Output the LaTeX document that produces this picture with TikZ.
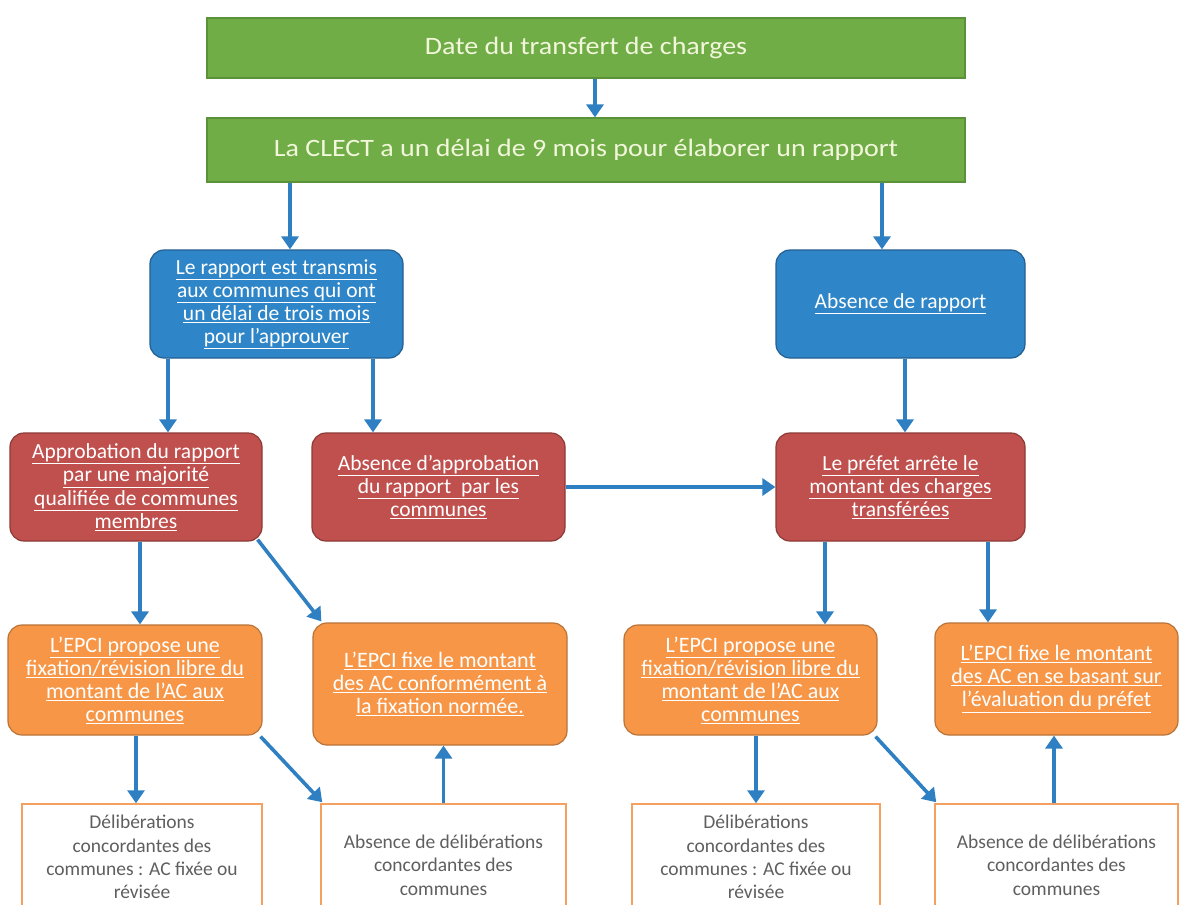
\documentclass[tikz,border=0pt]{standalone}
\usepackage{fontspec}
\setmainfont{Carlito}
\newfontfamily\greenfont[FakeStretch=1.12]{Carlito}
\usetikzlibrary{arrows.meta}
\newcommand\myul[1]{\underline{#1}}
\definecolor{gfill}{HTML}{70AD47}
\definecolor{gline}{HTML}{5B9239}
\definecolor{bfill}{HTML}{2E86C8}
\definecolor{bline}{HTML}{245F91}
\definecolor{rfill}{HTML}{C0504D}
\definecolor{rline}{HTML}{8C3A38}
\definecolor{ofill}{HTML}{F79646}
\definecolor{oline}{HTML}{B9743A}
\definecolor{wline}{HTML}{F4A060}
\definecolor{arrc}{HTML}{2F80C2}
\definecolor{wtext}{HTML}{5F5F5F}
\definecolor{gtext}{HTML}{F2F7DC}
\tikzset{
  base/.style={inner sep=0pt, align=center, line width=1.2pt},
  greenbox/.style={base, fill=gfill, draw=gline, text=gtext, font={\greenfont\fontsize{25}{30}\selectfont}},
  bluebox/.style={base, fill=bfill, draw=bline, rounded corners=14pt, text=white, font={\fontsize{21.5}{23}\selectfont}},
  redbox/.style={base, fill=rfill, draw=rline, rounded corners=14pt, text=white, font={\fontsize{21.5}{23.3}\selectfont}},
  orangebox/.style={base, fill=ofill, draw=oline, rounded corners=14pt, text=white, font={\fontsize{22}{23}\selectfont}},
  whitebox/.style={base, fill=white, draw=wline, line width=1.5pt, text=wtext, font={\fontsize{19.5}{23.3}\selectfont}},
  arr/.style={draw=arrc, line width=3.6pt, -{Triangle[width=17pt,length=13pt]}},
}
\begin{document}
\begin{tikzpicture}[x=1pt,y=-1pt]
\useasboundingbox (0,0) rectangle (1179,905);
\clip (0,0) rectangle (1179,905);
\fill[white] (0,0) rectangle (1179,905);
% green
\node[greenbox, minimum width=758pt, minimum height=60pt] (g1) at (586,48) {Date du transfert de charges};
\node[greenbox, minimum width=758pt, minimum height=64pt] (g2) at (586,150) {La CLECT a un délai de 9 mois pour élaborer un rapport};
% blue
\node[bluebox, minimum width=253pt, minimum height=108pt] (b1) at (276.5,304) {\myul{Le rapport est transmis}\\ \myul{aux communes qui ont}\\ \myul{un délai de trois mois}\\ \myul{pour l'approuver}};
\node[bluebox, minimum width=249pt, minimum height=108pt] (b2) at (900.5,304) {\myul{Absence de rapport}};
% red
\node[redbox, minimum width=252pt, minimum height=108pt] (r1) at (136,487) {\myul{Approbation du rapport}\\ \myul{par une majorité}\\ \myul{qualifiée de communes}\\ \myul{membres}};
\node[redbox, minimum width=253pt, minimum height=108pt] (r2) at (438.5,487) {\myul{Absence d'approbation}\\ \myul{du rapport\ \ par les}\\ \myul{communes}};
\node[redbox, minimum width=249pt, minimum height=108pt] (r3) at (900.5,487) {\myul{Le préfet arrête le}\\ \myul{montant des charges}\\ \myul{transférées}};
% orange
\node[orangebox, minimum width=254pt, minimum height=110pt] (o1) at (135,680) {\myul{L'EPCI propose une}\\ \myul{fixation/révision libre du}\\ \myul{montant de l'AC aux}\\ \myul{communes}};
\node[orangebox, minimum width=254pt, minimum height=122pt] (o2) at (440,684) {\myul{L'EPCI fixe le montant}\\ \myul{des AC conformément à}\\ \myul{la fixation normée.}};
\node[orangebox, minimum width=253pt, minimum height=110pt] (o3) at (750.5,680) {\myul{L'EPCI propose une}\\ \myul{fixation/révision libre du}\\ \myul{montant de l'AC aux}\\ \myul{communes}};
\node[orangebox, minimum width=243pt, minimum height=112pt] (o4) at (1056.5,679) {\myul{L'EPCI fixe le montant}\\ \myul{des AC en se basant sur}\\ \myul{l'évaluation du préfet}};
% white (cut by the bottom edge)
\node[whitebox, minimum width=240pt, minimum height=106pt] (w1) at (142,857) {Délibérations\\ concordantes des\\ communes : AC fixée ou\\ révisée};
\node[whitebox, minimum width=245pt, minimum height=122pt] (w2) at (443.5,865) {Absence de délibérations\\ concordantes des\\ communes};
\node[whitebox, minimum width=248pt, minimum height=106pt] (w3) at (756,857) {Délibérations\\ concordantes des\\ communes : AC fixée ou\\ révisée};
\node[whitebox, minimum width=243pt, minimum height=122pt] (w4) at (1056.5,865) {Absence de délibérations\\ concordantes des\\ communes};
% connectors
\draw[arr] ([xshift=9pt]g1.south) -- ([xshift=9pt]g2.north);
\draw[arr] ([xshift=13.5pt]b1.north |- g2.south) -- ([xshift=13.5pt]b1.north);
\draw[arr] ([xshift=-18.5pt]b2.north |- g2.south) -- ([xshift=-18.5pt]b2.north);
\draw[arr] ([xshift=32pt]r1.north |- b1.south) -- ([xshift=32pt]r1.north);
\draw[arr] ([xshift=-65.5pt]r2.north |- b1.south) -- ([xshift=-65.5pt]r2.north);
\draw[arr] ([xshift=4.5pt]b2.south) -- ([xshift=4.5pt]r3.north);
\draw[arr] (r2.east) -- (r3.west);
\draw[arr] ([xshift=5pt]o1.north |- r1.south) -- ([xshift=5pt]o1.north);
\draw[arr] ([shift={(-5,-2)}]r1.south east) -- ([shift={(9,-1)}]o2.north west);
\draw[arr] ([xshift=74.5pt]o3.north |- r3.south) -- ([xshift=74.5pt]o3.north);
\draw[arr] ([xshift=-68.5pt]o4.north |- r3.south) -- ([xshift=-68.5pt]o4.north);
\draw[arr] ([xshift=-6pt]w1.north |- o1.south) -- ([xshift=-6pt]w1.north);
\draw[arr] ([shift={(-2,1)}]o1.south east) -- ([shift={(2,-1)}]w2.north west);
\draw[arr] (w2.north) -- (o2.south -| w2.north);
\draw[arr] (w3.north |- o3.south) -- (w3.north);
\draw[arr] ([shift={(-2,1)}]o3.south east) -- ([shift={(2,-1)}]w4.north west);
\draw[arr] ([xshift=-2.5pt]w4.north) -- ([xshift=-2.5pt]o4.south);
\end{tikzpicture}
\end{document}
